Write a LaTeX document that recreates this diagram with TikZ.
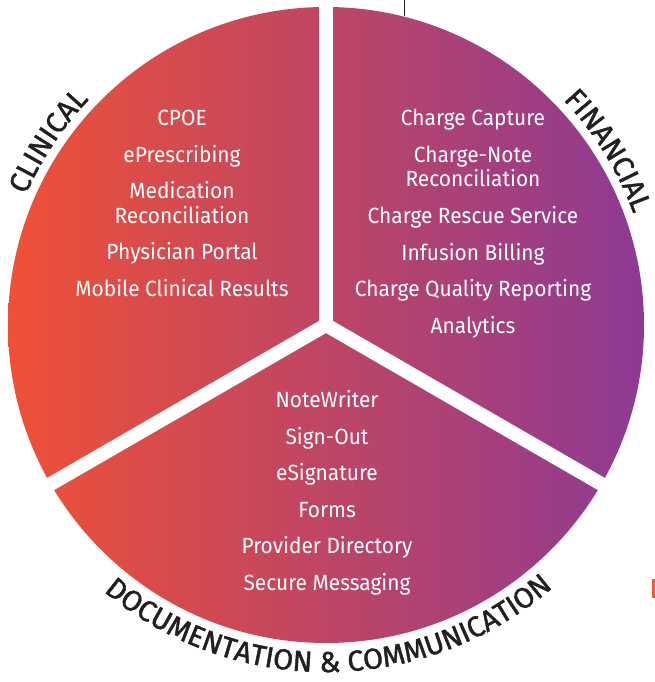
\documentclass[tikz,border=0pt]{standalone}
\usepackage{fontspec}
\setmainfont{Fira Sans}[FakeStretch=0.95]
\newfontfamily\titlefont{Fira Sans}[FakeBold=1.5]
\usetikzlibrary{decorations.text}
\definecolor{corange}{HTML}{EF5136}
\definecolor{cpurple}{HTML}{8D3A93}
\definecolor{ink}{HTML}{231F20}
\definecolor{markorange}{HTML}{F05A3C}
\begin{document}
\begin{tikzpicture}[x=1pt,y=1pt,
  item/.style={text=white, font=\fontsize{22}{24}\selectfont, anchor=base, inner sep=0pt},
  gapline/.style={white, line width=14pt},
]
\useasboundingbox (0,0) rectangle (655,682);
\coordinate (c) at (326,357);
\shade[left color=corange, right color=cpurple] (c) circle[radius=318];
\draw[gapline] (c) -- ++(90:330);
\draw[gapline] (c) -- ++(210:330);
\draw[gapline] (c) -- ++(330:330);

% Clinical
\node[item] (cl1) at (182,556) {CPOE};
\node[item] (cl2) at (182,519.5) {ePrescribing};
\node[item] (cl3) at (182,483) {Medication};
\node[item] (cl4) at (182,458.5) {Reconciliation};
\node[item] (cl5) at (182,422) {Physician Portal};
\node[item] (cl6) at (182,385.5) {Mobile Clinical Results};

% Financial
\node[item] (fi1) at (473,556) {Charge Capture};
\node[item] (fi2) at (473,519.5) {Charge-Note};
\node[item] (fi3) at (473,495) {Reconciliation};
\node[item] (fi4) at (473,458) {Charge Rescue Service};
\node[item] (fi5) at (473,421.5) {Infusion Billing};
\node[item] (fi6) at (473,385) {Charge Quality Reporting};
\node[item] (fi7) at (473,348.5) {Analytics};

% Documentation
\node[item] (do1) at (327,274) {NoteWriter};
\node[item] (do2) at (327,237.5) {Sign-Out};
\node[item] (do3) at (327,201) {eSignature};
\node[item] (do4) at (327,164.5) {Forms};
\node[item] (do5) at (327,128) {Provider Directory};
\node[item] (do6) at (327,91.5) {Secure Messaging};

% Titles along arcs
\path[decorate, decoration={text along path, text align=center,
  text={|\titlefont\fontsize{29}{29}\selectfont\color{ink}|CLINICAL}}]
  ([shift={(190:327)}]c) arc[start angle=190, end angle=103, radius=327];
\path[decorate, decoration={text along path, text align=center,
  text={|\titlefont\fontsize{29}{29}\selectfont\color{ink}|FINANCIAL}}]
  ([shift={(75:327)}]c) arc[start angle=75, end angle=-11.6, radius=327];
\path[decorate, decoration={text along path, text align=center,
  text={|\titlefont\fontsize{29}{29}\selectfont\color{ink}|DOCUMENTATION {\&} COMMUNICATION}}]
  ([shift={(200:347)}]c) arc[start angle=200, end angle=341, radius=347];

% stray marks
\coordinate (t1) at (404,682);
\coordinate (t2) at (404,666);
\draw[line width=0.9pt, ink] (t1) -- (t2);
\fill[markorange] (652,84) rectangle (655,103);
\end{tikzpicture}
\end{document}
